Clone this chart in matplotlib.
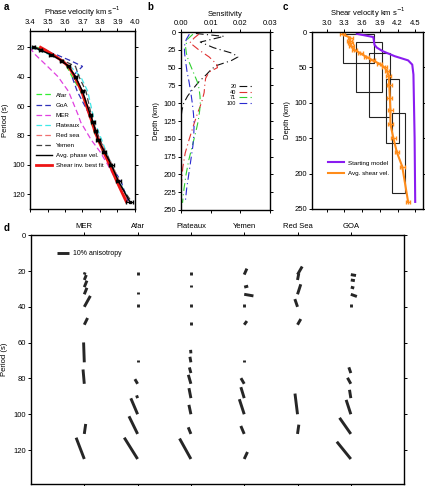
import numpy as np
import matplotlib
matplotlib.use("Agg")
import matplotlib.pyplot as plt
import matplotlib.transforms as mtransforms
from matplotlib.patches import Rectangle

plt.rcParams['font.family'] = ['Liberation Sans', 'DejaVu Sans']
plt.rcParams['font.size'] = 5.5
plt.rcParams['axes.linewidth'] = 1.0
plt.rcParams['xtick.major.size'] = 2.2
plt.rcParams['ytick.major.size'] = 2.2
plt.rcParams['xtick.major.width'] = 0.7
plt.rcParams['ytick.major.width'] = 0.7
plt.rcParams['xtick.major.pad'] = 1.5
plt.rcParams['ytick.major.pad'] = 1.5

# ---- panel a: phase velocities ----
periods_a = [20, 22, 25, 29, 33, 40, 50, 66, 71, 77, 83, 91, 100, 111, 125]
vel_afar = [3.44, 3.48, 3.53, 3.58, 3.61, 3.64, 3.69, 3.74, 3.75, 3.765, 3.785, 3.82, 3.86, 3.90, 3.95]
vel_goa = [3.41, 3.47, 3.55, 3.63, 3.70, 3.64, 3.67, 3.74, 3.755, 3.775, 3.79, 3.82, 3.86, 3.92, 3.96]
vel_mer = [3.40, 3.41, 3.43, 3.465, 3.50, 3.56, 3.62, 3.675, 3.69, 3.72, 3.75, 3.80, 3.845, 3.895, 3.95]
vel_plateaux = [3.40, 3.45, 3.51, 3.58, 3.63, 3.69, 3.73, 3.76, 3.77, 3.79, 3.81, 3.835, 3.87, 3.91, 3.97]
vel_redsea = [3.45, 3.49, 3.54, 3.59, 3.63, 3.66, 3.70, 3.75, 3.765, 3.78, 3.80, 3.83, 3.87, 3.91, 3.96]
vel_yemen = [3.43, 3.47, 3.52, 3.59, 3.66, 3.68, 3.72, 3.75, 3.76, 3.78, 3.80, 3.83, 3.87, 3.90, 3.98]
vel_avg = [3.42, 3.46, 3.52, 3.58, 3.62, 3.66, 3.70, 3.745, 3.76, 3.775, 3.79, 3.825, 3.865, 3.905, 3.97]
err_avg = [0.01, 0.01, 0.01, 0.01, 0.01, 0.01, 0.01, 0.01, 0.01, 0.01, 0.012, 0.012, 0.015, 0.015, 0.02]
vel_fit = [3.46, 3.49, 3.53, 3.58, 3.62, 3.655, 3.695, 3.74, 3.755, 3.77, 3.79, 3.82, 3.855, 3.895, 3.95]

# ---- panel b: sensitivity kernels ----
k20_depth = [2, 6, 14, 22, 30, 35, 40, 47, 52, 60, 70, 80, 90, 100, 110, 120]
k20_sens = [0.005, 0.0145, 0.0065, 0.011, 0.0175, 0.0192, 0.017, 0.012, 0.0103, 0.0085, 0.006, 0.004, 0.0022, 0.0009, 0.0003, 0.0]
k40_depth = [3, 8, 15, 25, 35, 45, 50, 56, 65, 75, 85, 95, 105, 115, 130, 150, 170, 190, 210, 230, 250]
k40_sens = [0.006, 0.0045, 0.003, 0.006, 0.0095, 0.012, 0.0123, 0.0095, 0.0083, 0.008, 0.0078, 0.0072, 0.0064, 0.0055, 0.0043, 0.0028, 0.0014, 0.0006, 0.0002, 0.0, 0.0]
k71_depth = [3, 10, 20, 30, 40, 50, 60, 70, 80, 90, 100, 110, 125, 140, 160, 180, 200, 220, 240]
k71_sens = [0.004, 0.0022, 0.0015, 0.0018, 0.0025, 0.0035, 0.0045, 0.0055, 0.0061, 0.0064, 0.0065, 0.0063, 0.0058, 0.005, 0.0038, 0.0026, 0.0017, 0.001, 0.0005]
k100_depth = [3, 10, 20, 30, 40, 55, 70, 85, 100, 115, 130, 145, 160, 180, 200, 220, 240]
k100_sens = [0.0028, 0.0018, 0.0011, 0.0012, 0.0015, 0.002, 0.0027, 0.0033, 0.0038, 0.0042, 0.0044, 0.0043, 0.004, 0.0033, 0.0026, 0.0019, 0.0014]

# ---- panel c: shear velocity ----
start_depth = [2.5, 7, 18, 22, 27, 34, 40, 46, 60, 150, 240]
start_vs = [3.51, 3.79, 3.81, 3.85, 3.95, 4.15, 4.38, 4.45, 4.47, 4.49, 4.50]
avg_depth = [3, 8, 12, 16, 20, 25, 30, 35, 40, 45, 50, 55, 62, 75, 93, 110, 130, 150, 170, 190, 240]
avg_vs = [3.27, 3.40, 3.39, 3.40, 3.42, 3.47, 3.57, 3.67, 3.78, 3.90, 3.98, 4.02, 4.05, 4.06, 4.07, 4.08, 4.08, 4.13, 4.19, 4.28, 4.38]
avg_vs_err = 0.04
box_vmin = [3.27, 3.50, 3.72, 4.00, 4.11]
box_vmax = [3.81, 3.94, 4.07, 4.22, 4.32]
box_dtop = [3, 14, 29, 66, 115]
box_dbot = [43, 84, 120, 157, 227]

# ---- panel d: anisotropy (tail at period, azimuth deg, amplitude %) ----
regions = ['MER', 'Afar', 'Plateaux', 'Yemen', 'Red Sea', 'GOA']
mer_p = [22, 25, 29, 33, 40, 50, 66, 71, 83, 111, 125]
mer_az = [20, 22, 22, 22, 29, 26, -90, -2, -5, 8, -21]
mer_amp = [2, 4.6, 6, 6, 10.7, 6.4, 1.5, 17, 12.3, 8.6, 19.5]
afar_p = [22, 33, 40, 71, 83, 91, 100, 111, 125]
afar_az = [0, 0, 0, 0, -30, -20, -23, -26, -32]
afar_amp = [2, 2, 2, 2, 4.6, 2.5, 14.8, 16.8, 21.5]
plat_p = [22, 29, 40, 50, 66, 71, 77, 83, 91, 100, 111, 125]
plat_az = [0, 0, 0, 0, -5, -10, -15, -16, -11, -12, -22, -29]
plat_amp = [2, 2, 2, 2, 3, 4.8, 5, 8, 8.7, 8.2, 6.1, 20]
yem_p = [22, 29, 33, 40, 50, 71, 83, 91, 100, 111, 125]
yem_az = [24, 75, 100, 0, 36, 0, -30, -17, -18, -23, 25]
yem_amp = [5.6, 3.5, 8, 2, 3.9, 2, 5.6, 9.8, 13.5, 7.4, 6.6]
red_p = [22, 25, 33, 40, 50, 100, 111]
red_az = [30, 11, 18, -19, 30, -7, 8]
red_amp = [8, 5.8, 9, 7, 5.6, 17.8, 8]
goa_p = [22, 25, 29, 33, 40, 77, 83, 91, 100, 111, 125]
goa_az = [100, 100, 105, 110, 0, -19, -29, -9, -18, -35, -39]
goa_amp = [4.5, 3.5, 3, 5.5, 2, 5.2, 5.9, 7.2, 12.9, 16.8, 19]

fig = plt.figure(figsize=(4.25, 4.86), dpi=100)


def frame_ticks(ax):
    ax.tick_params(which='both', direction='out', top=True, bottom=True,
                   left=True, right=True, labeltop=True, labelbottom=False)
    ax.xaxis.set_label_position('top')


# a
ax_a = fig.add_axes([0.0706, 0.570, 0.247, 0.366])
dash = (0, (4.5, 2.5))
ax_a.plot(vel_afar, periods_a, color='#33ee33', ls=dash, lw=0.9, label='Afar')
ax_a.plot(vel_goa, periods_a, color='#3030b8', ls=dash, lw=0.9, label='GoA')
ax_a.plot(vel_mer, periods_a, color='#e040e0', ls=dash, lw=0.9, label='MER')
ax_a.plot(vel_plateaux, periods_a, color='#40e8e8', ls=dash, lw=0.9, label='Plateaux')
ax_a.plot(vel_redsea, periods_a, color='#f07070', ls=dash, lw=0.9, label='Red sea')
ax_a.plot(vel_yemen, periods_a, color='#404040', ls=dash, lw=0.9, label='Yemen')
ax_a.plot(vel_avg, periods_a, color='k', lw=1.0, label='Avg. phase vel.', zorder=4)
ax_a.plot(vel_fit, periods_a, color='#ee1515', lw=2.0, label='Shear inv. best fit', zorder=3)
ax_a.errorbar(vel_avg, periods_a, xerr=err_avg, fmt='s', color='k', ms=2,
              elinewidth=0.8, capsize=1.2, zorder=4)
ax_a.legend(loc='upper left', bbox_to_anchor=(0.03, 0.67), frameon=False, fontsize=4.5,
            handlelength=2.6, handletextpad=0.6, labelspacing=0.75, borderaxespad=0)
ax_a.set_xlim(3.4, 4.0)
ax_a.set_ylim(130, 9)
ax_a.set_xticks([3.4, 3.5, 3.6, 3.7, 3.8, 3.9, 4.0])
ax_a.set_yticks([20, 40, 60, 80, 100, 120])
ax_a.set_xlabel('Phase velocity km s$^{-1}$', labelpad=3)
ax_a.set_ylabel('Period (s)', labelpad=2)
frame_ticks(ax_a)

# b
ax_b = fig.add_axes([0.426, 0.568, 0.209, 0.366])
dd = (0, (7, 3, 1, 3))
ax_b.plot(k20_sens, k20_depth, color='#111111', ls=dd, lw=0.8, label='20')
ax_b.plot(k40_sens, k40_depth, color='#e03030', ls=dd, lw=0.8, label='40')
ax_b.plot(k71_sens, k71_depth, color='#30d030', ls=dd, lw=0.8, label='71')
ax_b.plot(k100_sens, k100_depth, color='#2a2ad0', ls=dd, lw=0.8, label='100')
ax_b.legend(loc='upper right', bbox_to_anchor=(0.83, 0.72), frameon=False, fontsize=4,
            markerfirst=False, handlelength=2.4, handletextpad=0.5, labelspacing=0.1,
            borderaxespad=0)
ax_b.set_xlim(0, 0.03)
ax_b.set_ylim(250, 0)
ax_b.set_xticks([0, 0.01, 0.02, 0.03])
ax_b.set_xticklabels(['0.00', '0.01', '0.02', '0.03'])
ax_b.set_yticks(np.arange(0, 251, 25))
ax_b.set_xlabel('Sensitivity', labelpad=3)
ax_b.set_ylabel('Depth (km)', labelpad=2)
frame_ticks(ax_b)

# c
ax_c = fig.add_axes([0.734, 0.570, 0.261, 0.364])
for v0, v1, d0, d1 in zip(box_vmin, box_vmax, box_dtop, box_dbot):
    ax_c.add_patch(Rectangle((v0, d0), v1 - v0, d1 - d0, fill=False, ec='#222222', lw=0.8))
ax_c.plot(start_vs, start_depth, color='#8a1cf0', lw=1.5, label='Starting model')
ax_c.plot(avg_vs, avg_depth, color='#ff8c1a', lw=1.5, label='Avg. shear vel.')
ax_c.errorbar(avg_vs, avg_depth, xerr=avg_vs_err, fmt='|', color='#ff8c1a',
              ms=3, elinewidth=0.9, capsize=1.3)
ax_c.legend(loc='upper left', bbox_to_anchor=(0.12, 0.29), frameon=False, fontsize=4.5,
            handlelength=2.6, handletextpad=0.6, labelspacing=0.8, borderaxespad=0)
ax_c.set_xlim(2.75, 4.63)
ax_c.set_ylim(250, 0)
ax_c.set_xticks([3.0, 3.3, 3.6, 3.9, 4.2, 4.5])
ax_c.set_yticks([0, 50, 100, 150, 200, 250])
ax_c.set_xlabel('Shear velocity km s$^{-1}$', labelpad=3)
ax_c.set_ylabel('Depth (km)', labelpad=2)
frame_ticks(ax_c)

# d
ax_d = fig.add_axes([0.0729, 0.004, 0.878, 0.512])
ax_d.set_xlim(0, 7)
ax_d.set_ylim(139, 0)
bar_in_per_pct = 0.0117


def aniso_bar(x, period, az, amp):
    L = amp * bar_in_per_pct
    tr = fig.dpi_scale_trans + mtransforms.ScaledTranslation(x, period, ax_d.transData)
    a = np.deg2rad(az)
    ax_d.plot([0, L * np.sin(a)], [0, L * np.cos(a)], transform=tr, color='#262626',
              lw=2.1, solid_capstyle='butt', clip_on=False)


all_bars = [(mer_p, mer_az, mer_amp), (afar_p, afar_az, afar_amp), (plat_p, plat_az, plat_amp),
            (yem_p, yem_az, yem_amp), (red_p, red_az, red_amp), (goa_p, goa_az, goa_amp)]
for col, (ps, azs, amps) in enumerate(all_bars, start=1):
    for p, az, amp in zip(ps, azs, amps):
        aniso_bar(col, p, az, amp)

# scale bar
aniso_bar(0.49, 10, 90, 10)
ax_d.text(0.78, 10, '10% anisotropy', fontsize=5, va='center', ha='left')

ax_d.set_xticks(range(1, 7))
ax_d.set_xticklabels(regions)
ax_d.set_yticks([0, 20, 40, 60, 80, 100, 120])
ax_d.set_ylabel('Period (s)', labelpad=4)
ax_d.tick_params(direction='out', top=True, bottom=True, left=True, right=True,
                 labeltop=True, labelbottom=False)

fig.text(0.009, 0.979, 'a', fontsize=7, weight='bold')
fig.text(0.346, 0.979, 'b', fontsize=7, weight='bold')
fig.text(0.666, 0.979, 'c', fontsize=7, weight='bold')
fig.text(0.009, 0.524, 'd', fontsize=7, weight='bold')

fig.savefig('out.png', dpi=100)
